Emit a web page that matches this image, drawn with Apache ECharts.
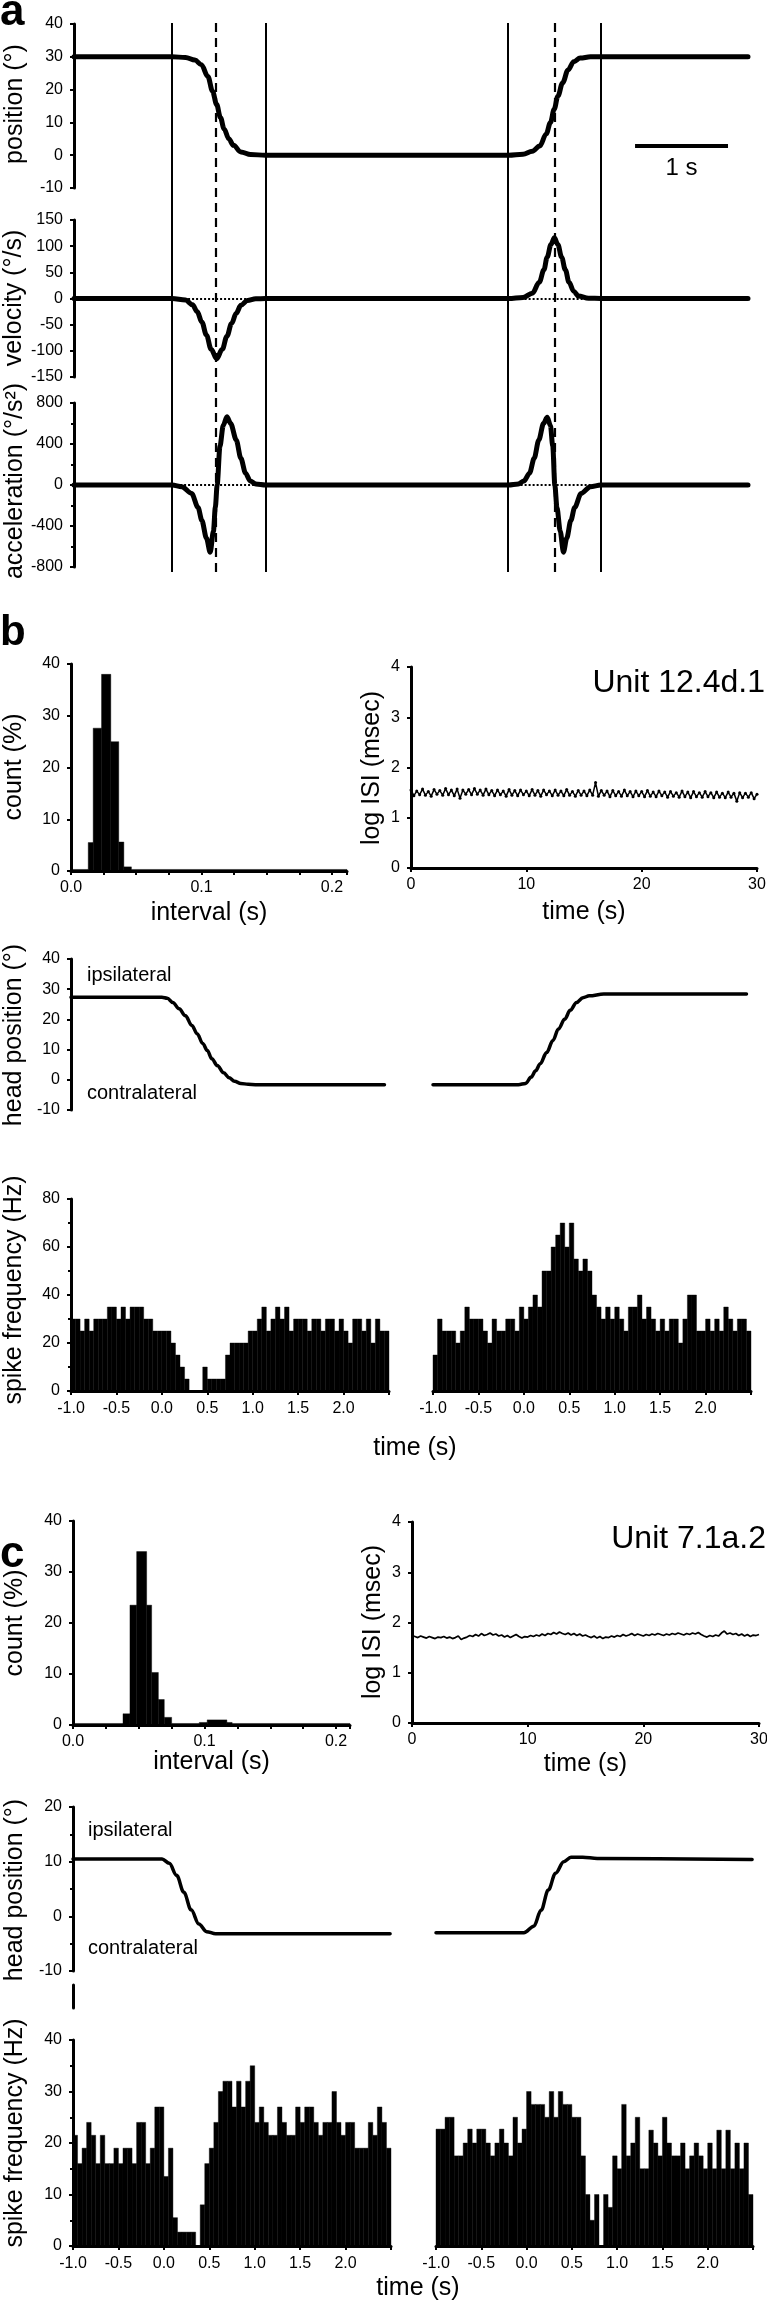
<!DOCTYPE html>
<html>
<head>
<meta charset="utf-8">
<title>head movement and spike frequency</title>
<script src="https://cdn.jsdelivr.net/npm/echarts@6/dist/echarts.min.js"></script>
<style>
  html, body { margin: 0; padding: 0; background: #fff; }
  #chart { width: 767px; height: 2317px; }
</style>
</head>
<body>
<div id="chart"></div>
<script>
// ---------- panel a : movement template (time in s) ----------
const aTimeMax = 7.25;
const aEventLines = [1.055, 2.06, 4.675, 5.667];
const aPeakLines = [1.534, 5.167];
const aScaleBar = [6.035, 7.035];      // 1 s bar
const aScaleBarLevel = 3;
const aPosition = [[0,30],[1.055,30],[1.2,29.8],[1.3,29],[1.37,27.6],[1.44,24],[1.49,19.5],[1.534,15.5],[1.575,11.5],[1.615,8],[1.665,5],[1.715,3],[1.795,1],[1.9,0.2],[2.06,0],
  [4.675,0],[4.83,0.3],[4.93,1.2],[5.01,2.8],[5.08,6.5],[5.125,10],[5.165,14],[5.205,18],[5.255,22],[5.315,26],[5.375,28.5],[5.445,29.6],[5.555,30],[7.25,30]];
const aVelocity = [[0,0],[1.055,0],[1.2,-3],[1.275,-12],[1.325,-25],[1.375,-45],[1.425,-70],[1.475,-97],[1.534,-115],[1.595,-97],[1.645,-72],[1.695,-48],[1.745,-28],[1.795,-13],[1.865,-4],[1.955,-0.5],[2.06,0],
  [4.675,0],[4.83,2],[4.93,10],[5.005,31],[5.055,55],[5.09,79],[5.13,103],[5.167,116],[5.205,103],[5.245,79],[5.285,55],[5.325,31],[5.375,14],[5.425,5],[5.535,0.5],[5.667,0],[7.25,0]];
const aAcceleration = [[0,0],[1.055,0],[1.16,-16],[1.265,-82],[1.335,-220],[1.375,-344],[1.425,-520],[1.465,-656],[1.5,-450],[1.52,-220],[1.54,0],[1.57,377],[1.605,580],[1.645,666],[1.685,600],[1.745,440],[1.795,260],[1.845,115],[1.895,40],[1.955,10],[2.06,0],
  [4.675,0],[4.78,10],[4.84,40],[4.9,115],[4.95,260],[5.0,440],[5.05,600],[5.09,660],[5.125,580],[5.15,377],[5.172,0],[5.195,-220],[5.23,-450],[5.265,-656],[5.3,-520],[5.345,-344],[5.385,-220],[5.455,-82],[5.555,-16],[5.667,0],[7.25,0]];

// ---------- panel b : unit 12.4d.1 ----------
const bIntervalEdges = [0, 0.0132, 0.017, 0.0234, 0.0305, 0.0366, 0.0405, 0.0463, 0.2115];
const bIntervalCounts = [0.3, 5.5, 27.6, 38, 25, 5.6, 0.8, 0.3];
const isiStep = 0.25;
const bLogIsi = [1.55,1.44,1.53,1.46,1.57,1.45,1.52,1.43,1.56,1.47,1.54,
  1.45,1.58,1.46,1.55,1.44,1.57,1.39,1.55,1.47,
  1.56,1.46,1.58,1.47,1.55,1.45,1.57,1.46,1.54,1.44,
  1.55,1.46,1.53,1.43,1.56,1.45,1.54,1.44,1.55,1.46,
  1.53,1.44,1.56,1.45,1.54,1.43,1.55,1.46,1.53,1.44,
  1.55,1.45,1.53,1.44,1.56,1.45,1.52,1.43,1.54,1.45,
  1.53,1.44,1.55,1.45,1.70,1.43,1.54,1.45,1.53,1.42,
  1.54,1.44,1.52,1.43,1.55,1.44,1.52,1.42,1.53,1.44,
  1.52,1.42,1.54,1.43,1.51,1.42,1.53,1.44,1.51,1.41,
  1.52,1.43,1.50,1.41,1.53,1.42,1.51,1.40,1.52,1.42,
  1.50,1.41,1.52,1.42,1.50,1.40,1.51,1.41,1.49,1.40,
  1.51,1.41,1.49,1.33,1.50,1.40,1.49,1.41,1.50,1.38,1.47];
const bHeadLeft = [[-1.0,27.3],[0.0,27.3],[0.06,27],[0.12,25.6],[0.19,23.5],[0.26,21.2],[0.33,18],[0.39,15.2],[0.45,12],[0.5,9.7],[0.55,7],[0.61,4.7],[0.68,2.3],[0.74,0.7],[0.8,-0.5],[0.87,-1.2],[0.95,-1.5],[1.03,-1.6],[2.45,-1.6]];
const bHeadRight = [[-1.0,-1.6],[-0.06,-1.6],[0.02,-1.2],[0.08,0.9],[0.13,3],[0.18,5.3],[0.25,9],[0.32,13],[0.38,16.8],[0.45,20.1],[0.51,23],[0.58,25.6],[0.65,27.2],[0.72,27.8],[0.88,28.4],[2.45,28.4]];
const psthStart = -1.0;
const psthBin = 0.05;
const bRateLeft = [30,30,25,30,25,30,30,30,35,35,30,35,30,35,35,35,30,30,25,25,
  25,25,20,15,10,5,0,0,0,10,5,5,5,5,15,20,20,20,20,25,
  25,30,35,25,30,35,30,35,25,30,30,30,25,30,30,25,30,30,25,30,
  25,20,30,30,25,30,20,30,25,25];
const bRateRight = [15,30,25,25,25,20,25,35,30,30,30,25,20,30,25,25,30,30,25,35,
  30,35,40,35,50,50,60,65,70,60,70,55,50,55,50,40,35,30,35,30,
  35,30,25,35,35,40,30,35,30,25,30,25,30,30,20,30,40,40,25,25,
  30,25,30,25,35,30,25,30,30,25];

// ---------- panel c : unit 7.1a.2 ----------
const cIntervalEdges = [0, 0.038, 0.0433, 0.0484, 0.056, 0.0598, 0.0649, 0.0694, 0.075, 0.096, 0.102, 0.117, 0.121, 0.2106];
const cIntervalCounts = [0.3, 2.2, 23.5, 34, 23.5, 10.3, 5, 1.5, 0.3, 0.5, 1.0, 0.5, 0.3];
const cLogIsi = [1.74,1.72,1.70,1.73,1.71,1.69,1.72,1.70,1.68,1.71,1.70,
  1.72,1.69,1.71,1.68,1.70,1.73,1.66,1.69,1.71,
  1.74,1.72,1.76,1.73,1.78,1.74,1.76,1.79,1.75,1.77,
  1.73,1.75,1.71,1.74,1.70,1.73,1.76,1.72,1.69,1.72,
  1.71,1.74,1.72,1.75,1.73,1.77,1.74,1.78,1.76,1.80,
  1.77,1.81,1.78,1.76,1.79,1.75,1.78,1.74,1.77,1.73,
  1.75,1.72,1.70,1.73,1.69,1.72,1.68,1.71,1.70,1.73,
  1.71,1.74,1.72,1.76,1.73,1.75,1.78,1.74,1.77,1.75,
  1.73,1.76,1.74,1.77,1.75,1.78,1.76,1.74,1.77,1.75,
  1.78,1.76,1.79,1.77,1.75,1.78,1.76,1.79,1.77,1.80,
  1.76,1.73,1.71,1.74,1.72,1.75,1.73,1.79,1.83,1.77,
  1.79,1.76,1.78,1.74,1.77,1.73,1.76,1.72,1.75,1.74,1.76];
const cHeadLeft = [[-1.0,10.5],[-0.02,10.5],[0.06,9.7],[0.14,7.5],[0.22,4.4],[0.3,1.2],[0.385,-1.4],[0.47,-2.8],[0.57,-3.2],[2.49,-3.2]];
const cHeadRight = [[-1.0,-3.0],[-0.03,-3.0],[0.08,-1.8],[0.16,1.1],[0.24,4.8],[0.32,7.9],[0.41,10.0],[0.49,10.8],[0.62,10.8],[0.78,10.6],[2.49,10.4]];
const cRateLeft = [21.5,16,19,24,21.5,16,21.5,16,16,19,16,19,19,16,24,24,16,19,27,27,
  13.5,19,5.5,2.7,2.7,2.7,2.7,0,8,16,19,24,30,32,32,27,32,27,32,35,
  24,27,24,21.5,21.5,27,24,21.5,21.5,27,24,27,27,24,21.5,24,24,30,24,21.5,
  24,24,19,19,19,24,21.5,27,24,19];
const cRateRight = [22.7,22.7,25,25,17.5,17.5,20,22.7,20,22.7,22.7,20,17.5,20,22.7,20,17.5,25,20,22.7,
  30,27.5,27.5,27.5,25,30,25,30,27.5,27.5,25,25,17.5,10,5,10,0,10,7.5,17.5,
  15,27.5,17.5,20,25,15,15,22.5,20,17.5,25,20,17.5,17.5,20,15,17.5,20,17.5,15,
  20,15,22.5,15,22.5,15,20,15,20,10];

// ---------- helpers ----------
const INK = '#000';
const FONT = '"Liberation Sans", Arial, Helvetica, sans-serif';
const TICK_FONT = 16;
const NAME_FONT = 25;

function grid(left, top, width, height) {
  return { left, top, width, height, containLabel: false, outerBoundsMode: 'none' };
}
function axis(gridIndex, extra) {
  const a = {
    type: 'value', gridIndex, nameLocation: 'middle', nameMoveOverlap: false,
    axisLine: { show: true, onZero: false, lineStyle: { color: INK, width: 3 } },
    axisTick: { show: true, inside: false, length: 4, lineStyle: { color: INK, width: 2 } },
    minorTick: { show: false },
    axisLabel: { show: true, color: INK, fontSize: TICK_FONT, fontFamily: FONT, margin: 11 },
    splitLine: { show: false },
    minorSplitLine: { show: false },
    nameTextStyle: { color: INK, fontSize: NAME_FONT, fontFamily: FONT }
  };
  for (const k in extra) {
    if (a[k] && typeof a[k] === 'object' && typeof extra[k] === 'object') a[k] = Object.assign({}, a[k], extra[k]);
    else a[k] = extra[k];
  }
  return a;
}
function hidden(gridIndex, min, max) {
  return { type: 'value', gridIndex, min, max, show: false, axisLine: { onZero: false }, splitLine: { show: false } };
}
const minor = { show: true, splitNumber: 2, length: 3, lineStyle: { color: INK, width: 2 } };
const tenths = v => (Math.abs(v * 10 - Math.round(v * 10)) < 1e-6 ? v.toFixed(1) : '');
const psthLabel = v => (v > 2.25 ? '' : v.toFixed(1));

function binsFromEdges(edges, counts) {
  return counts.map((c, i) => [edges[i], edges[i + 1], c]);
}
function binsFromRate(values) {
  return values.map((v, i) => [psthStart + i * psthBin, psthStart + (i + 1) * psthBin, v]);
}
function isiPoints(values) {
  return values.map((v, i) => [i * isiStep, v]);
}
function renderBar(params, api) {
  const p0 = api.coord([api.value(0), api.value(2)]);
  const p1 = api.coord([api.value(1), 0]);
  return {
    type: 'rect',
    shape: { x: p0[0], y: p0[1], width: p1[0] - p0[0], height: p1[1] - p0[1] },
    style: { fill: INK, stroke: INK, lineWidth: 0.4 }
  };
}
function barSeries(idx, data) {
  return { type: 'custom', coordinateSystem: 'cartesian2d', xAxisIndex: idx, yAxisIndex: idx,
    renderItem: renderBar, encode: { x: [0, 1], y: 2 }, data, silent: true };
}
function curve(idx, data, width, extra) {
  return Object.assign({ type: 'line', xAxisIndex: idx, yAxisIndex: idx, data, showSymbol: false,
    smooth: 0.35, smoothMonotone: 'x', silent: true,
    lineStyle: { color: INK, width: width, cap: 'round', join: 'round' } }, extra || {});
}
const dottedZero = {
  silent: true, symbol: ['none', 'none'], label: { show: false },
  lineStyle: { color: INK, width: 2, type: 'dotted' },
  data: [
    [{ coord: [aEventLines[0], 0] }, { coord: [aEventLines[1], 0] }],
    [{ coord: [aEventLines[2], 0] }, { coord: [aEventLines[3], 0] }]
  ]
};
function text(str, x, y, size, align, bold) {
  return { type: 'text', x, y, silent: true,
    style: { text: str, font: (bold ? 'bold ' : '') + size + 'px ' + FONT, fill: INK,
      textAlign: align, align: align, textVerticalAlign: 'middle', verticalAlign: 'middle' } };
}
// vertical axis title, reading bottom to top, centred on (x, y)
function yTitle(str, x, y) {
  const t = text(str, x, y, NAME_FONT, 'center');
  t.rotation = Math.PI / 2;
  return t;
}

const psthX = { min: -1, max: 2.5, interval: 0.5, axisLabel: { margin: 10, formatter: psthLabel } };

const option = {
  animation: false,
  backgroundColor: '#fff',
  grid: [
    grid(74, 23, 674, 549),    // 0 a: event lines
    grid(74, 24, 674, 164),    // 1 a: position
    grid(74, 220, 674, 157),   // 2 a: velocity
    grid(74, 403, 674, 164),   // 3 a: acceleration
    grid(71, 664, 276, 207),   // 4 b: interval histogram
    grid(411, 667, 346, 201),  // 5 b: log ISI
    grid(71, 959, 318, 151),   // 6 b: head left
    grid(433, 959, 318, 151),  // 7 b: head right
    grid(71, 1199, 318, 192),  // 8 b: psth left
    grid(433, 1199, 318, 192), // 9 b: psth right
    grid(73, 1521, 277, 204),  // 10 c: interval histogram
    grid(412, 1522, 347, 201), // 11 c: log ISI
    grid(73, 1807, 318, 164),  // 12 c: head left
    grid(436, 1807, 317, 164), // 13 c: head right
    grid(73, 1985, 318, 23),   // 14 c: axis stub below break
    grid(73, 2040, 318, 206),  // 15 c: psth left
    grid(436, 2040, 317, 206)  // 16 c: psth right
  ],
  xAxis: [
    hidden(0, 0, aTimeMax), hidden(1, 0, aTimeMax), hidden(2, 0, aTimeMax), hidden(3, 0, aTimeMax),
    axis(4, { min: 0, max: 0.2115, interval: 0.025, name: 'interval (s)', nameGap: 30, axisLabel: { margin: 9, formatter: tenths } }),
    axis(5, { min: 0, max: 30, interval: 10, name: 'time (s)', nameGap: 32, axisLabel: { margin: 9 } }),
    hidden(6, -1, 2.5), hidden(7, -1, 2.5),
    axis(8, psthX), axis(9, psthX),
    axis(10, { min: 0, max: 0.2106, interval: 0.025, name: 'interval (s)', nameGap: 25, axisLabel: { margin: 9, formatter: tenths } }),
    axis(11, { min: 0, max: 30, interval: 10, name: 'time (s)', nameGap: 29, axisLabel: { margin: 9 } }),
    hidden(12, -1, 2.5), hidden(13, -1, 2.5), hidden(14, -1, 2.5),
    axis(15, psthX), axis(16, psthX)
  ],
  yAxis: [
    hidden(0, 0, 1),
    axis(1, { min: -10, max: 40, interval: 10 }),
    axis(2, { min: -150, max: 150, interval: 50 }),
    axis(3, { min: -800, max: 800, interval: 400, minorTick: minor }),
    axis(4, { min: 0, max: 40, interval: 10 }),
    axis(5, { min: 0, max: 4, interval: 1 }),
    axis(6, { min: -10, max: 40, interval: 10 }),
    hidden(7, -10, 40),
    axis(8, { min: 0, max: 80, interval: 20, minorTick: minor }),
    hidden(9, 0, 80),
    axis(10, { min: 0, max: 40, interval: 10 }),
    axis(11, { min: 0, max: 4, interval: 1 }),
    axis(12, { min: -10, max: 20, interval: 10, minorTick: minor }),
    hidden(13, -10, 20),
    axis(14, { min: 0, max: 1, axisTick: { show: false }, axisLabel: { show: false } }),
    axis(15, { min: 0, max: 40, interval: 10, minorTick: minor }),
    hidden(16, 0, 40)
  ],
  series: [
    // panel a event markers
    { type: 'line', xAxisIndex: 0, yAxisIndex: 0, data: [[0, 0]], showSymbol: false, silent: true,
      lineStyle: { opacity: 0 },
      markLine: { silent: true, symbol: ['none', 'none'], label: { show: false },
        lineStyle: { color: INK, width: 2, type: 'solid' },
        data: aEventLines.map(t => ({ xAxis: t })) } },
    { type: 'line', xAxisIndex: 0, yAxisIndex: 0, data: [[0, 0]], showSymbol: false, silent: true,
      lineStyle: { opacity: 0 },
      markLine: { silent: true, symbol: ['none', 'none'], label: { show: false },
        lineStyle: { color: INK, width: 2.2, type: [9, 6] },
        data: aPeakLines.map(t => ({ xAxis: t })) } },
    curve(1, aPosition, 5, {
      markLine: { silent: true, symbol: ['none', 'none'],
        lineStyle: { color: INK, width: 4, type: 'solid' },
        label: { show: true, formatter: '1 s', position: 'insideMiddleBottom', distance: 11,
          color: INK, fontSize: 24, fontFamily: FONT },
        data: [[{ coord: [aScaleBar[0], aScaleBarLevel] }, { coord: [aScaleBar[1], aScaleBarLevel] }]] } }),
    curve(2, aVelocity, 5, { markLine: dottedZero }),
    curve(3, aAcceleration, 5, { smooth: 0.3, markLine: dottedZero }),

    // panel b
    barSeries(4, binsFromEdges(bIntervalEdges, bIntervalCounts)),
    { type: 'line', xAxisIndex: 5, yAxisIndex: 5, data: isiPoints(bLogIsi), silent: true,
      symbol: 'circle', symbolSize: 3, showSymbol: true, itemStyle: { color: INK },
      lineStyle: { color: INK, width: 1.5 } },
    curve(6, bHeadLeft, 3.5),
    curve(7, bHeadRight, 3.5),
    barSeries(8, binsFromRate(bRateLeft)),
    barSeries(9, binsFromRate(bRateRight)),

    // panel c
    barSeries(10, binsFromEdges(cIntervalEdges, cIntervalCounts)),
    { type: 'line', xAxisIndex: 11, yAxisIndex: 11, data: isiPoints(cLogIsi), silent: true,
      showSymbol: false, lineStyle: { color: INK, width: 1.7 } },
    curve(12, cHeadLeft, 3.5),
    curve(13, cHeadRight, 3.5),
    barSeries(15, binsFromRate(cRateLeft)),
    barSeries(16, binsFromRate(cRateRight))
  ],
  graphic: { elements: [
    text('a', 0, 13, 44, 'left', true),
    text('b', 0, 633, 42, 'left', true),
    text('c', 0, 1555, 44, 'left', true),
    text('Unit 12.4d.1', 765, 683, 32, 'right'),
    text('Unit 7.1a.2', 766, 1539, 32, 'right'),
    text('ipsilateral', 87, 975, 20, 'left'),
    text('contralateral', 87, 1093, 20, 'left'),
    text('ipsilateral', 88, 1830, 20, 'left'),
    text('contralateral', 88, 1948, 20, 'left'),
    text('time (s)', 415, 1448, NAME_FONT, 'center'),
    text('time (s)', 418, 2288, NAME_FONT, 'center'),
    yTitle('position (°)', 15, 104),
    yTitle('velocity (°/s)', 14, 298),
    yTitle('acceleration (°/s²)', 15, 481),
    yTitle('count (%)', 14, 767),
    yTitle('log ISI (msec)', 372, 768),
    yTitle('head position (°)', 14, 1035),
    yTitle('spike frequency (Hz)', 14, 1290),
    yTitle('count (%)', 15, 1623),
    yTitle('log ISI (msec)', 373, 1622),
    yTitle('head position (°)', 15, 1890),
    yTitle('spike frequency (Hz)', 15, 2133)
  ] }
};

const chart = echarts.init(document.getElementById('chart'), null, { renderer: 'canvas', width: 767, height: 2317 });
chart.setOption(option);
</script>
</body>
</html>
